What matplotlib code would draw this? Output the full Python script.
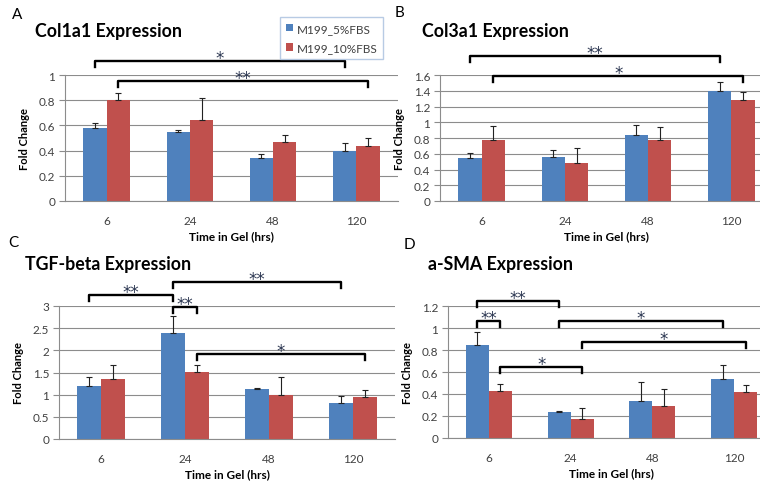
"""
Gene expression fold change vs time in gel, four panels (A-D).
Grouped bars with upward error bars and significance brackets.
"""

import numpy as np
import matplotlib
matplotlib.use("Agg")
import matplotlib.pyplot as plt

plt.rcParams["font.family"] = ["Lato", "DejaVu Sans"]

# Data
times = ["6", "24", "48", "120"]
series_names = ["M199_5%FBS", "M199_10%FBS"]

col1a1_5 = [0.58, 0.55, 0.34, 0.40]
col1a1_10 = [0.80, 0.64, 0.47, 0.44]
col1a1_5_err = [0.04, 0.01, 0.03, 0.06]
col1a1_10_err = [0.06, 0.18, 0.05, 0.06]

col3a1_5 = [0.54, 0.56, 0.84, 1.40]
col3a1_10 = [0.77, 0.48, 0.77, 1.28]
col3a1_5_err = [0.07, 0.09, 0.12, 0.11]
col3a1_10_err = [0.18, 0.19, 0.17, 0.11]

tgfb_5 = [1.20, 2.40, 1.13, 0.82]
tgfb_10 = [1.35, 1.52, 1.00, 0.95]
tgfb_5_err = [0.19, 0.37, 0.01, 0.14]
tgfb_10_err = [0.31, 0.14, 0.40, 0.16]

asma_5 = [0.85, 0.235, 0.34, 0.54]
asma_10 = [0.43, 0.175, 0.295, 0.42]
asma_5_err = [0.11, 0.01, 0.17, 0.12]
asma_10_err = [0.06, 0.10, 0.15, 0.06]

# significance brackets: (group, series) -> (group, series), height, label
col1a1_sig = [((0, 0), (3, 0), 1.11, "*"), ((0, 1), (3, 1), 0.95, "**")]
col3a1_sig = [((0, 0), (3, 0), 1.84, "**"), ((0, 1), (3, 1), 1.59, "*")]
tgfb_sig = [((0, 0), (1, 0), 3.25, "**"), ((1, 0), (3, 0), 3.54, "**"),
            ((1, 0), (1, 1), 2.98, "**"), ((1, 1), (3, 1), 1.92, "*")]
asma_sig = [((0, 0), (1, 0), 1.245, "**"), ((0, 0), (0, 1), 1.064, "**"),
            ((1, 0), (3, 0), 1.064, "*"), ((1, 1), (3, 1), 0.873, "*"),
            ((0, 1), (1, 1), 0.645, "*")]

BLUE = "#4F81BD"
RED = "#C0504D"
GRID = "#8C8C8C"
TICKC = "#404040"
W, H = 760, 485
BW = 0.28


def px_axes(left, right, top, bottom):
    return fig.add_axes([left / W, 1 - bottom / H, (right - left) / W, (bottom - top) / H])


def panel(ax, s5, s10, e5, e10, ymax, ystep, sigs, hpx):
    x = np.arange(len(times))
    ax.bar(x - BW / 2, s5, BW, color=BLUE, zorder=2, label=series_names[0])
    ax.bar(x + BW / 2, s10, BW, color=RED, zorder=2, label=series_names[1])
    for xs, v, e in ((x - BW / 2, s5, e5), (x + BW / 2, s10, e10)):
        ax.errorbar(xs, v, yerr=[np.zeros(len(e)), e], fmt="none", ecolor="#222222",
                    elinewidth=0.8, capsize=2.2, capthick=0.8, zorder=3)
    ax.set_xlim(-0.5, len(times) - 0.5)
    ax.set_ylim(0, ymax)
    ax.set_yticks(np.arange(0, ymax + ystep / 2, ystep))
    ax.yaxis.set_major_formatter(plt.FormatStrFormatter("%g"))
    ax.set_xticks(x)
    ax.set_xticklabels(times)
    ax.grid(axis="y", color=GRID, lw=0.8, zorder=0)
    for s in ("top", "right"):
        ax.spines[s].set_visible(False)
    for s in ("left", "bottom"):
        ax.spines[s].set_color(GRID)
        ax.spines[s].set_linewidth(0.8)
    ax.tick_params(axis="y", length=4, color=GRID, labelsize=8.5, labelcolor=TICKC, pad=3)
    ax.tick_params(axis="x", length=0, labelsize=8.5, labelcolor=TICKC, pad=10)
    ax.set_xlabel("Time in Gel (hrs)", fontsize=8.5, fontweight="bold", labelpad=3)
    ax.set_ylabel("Fold Change", fontsize=8, fontweight="bold", labelpad=6)
    drop = ymax * 6.0 / hpx
    for (g0, s0), (g1, s1), y, lab in sigs:
        x0 = g0 + (s0 - 0.5) * BW
        x1 = g1 + (s1 - 0.5) * BW
        ax.plot([x0, x0, x1, x1], [y - drop, y, y, y - drop], color="black", lw=1.7,
                clip_on=False, zorder=5, solid_joinstyle="round")
        ax.annotate(lab, xy=((x0 + x1) / 2, y), xytext=(0, -1.5), textcoords="offset points",
                    ha="center", va="baseline", fontsize=12, color="#2A3550",
                    family="DejaVu Sans", annotation_clip=False)


fig = plt.figure(figsize=(7.6, 4.85), dpi=100)

axA = px_axes(65, 398, 76, 202)
axB = px_axes(440, 773, 76, 202)
axC = px_axes(59, 395, 307, 440)
axD = px_axes(448, 775, 307, 439)

panel(axA, col1a1_5, col1a1_10, col1a1_5_err, col1a1_10_err, 1.0, 0.2, col1a1_sig, 126)
panel(axB, col3a1_5, col3a1_10, col3a1_5_err, col3a1_10_err, 1.6, 0.2, col3a1_sig, 126)
panel(axC, tgfb_5, tgfb_10, tgfb_5_err, tgfb_10_err, 3.0, 0.5, tgfb_sig, 133)
panel(axD, asma_5, asma_10, asma_5_err, asma_10_err, 1.2, 0.2, asma_sig, 132)

# titles and panel letters
for txt, x, y in [("Col1a1 Expression", 35, 32), ("Col3a1 Expression", 422, 32),
                  ("TGF-beta Expression", 25, 265), ("a-SMA Expression", 428, 265)]:
    fig.text(x / W, 1 - y / H, txt, fontsize=12.8, fontweight="bold", va="center", ha="left")
for txt, x, y in [("A", 12, 15), ("B", 395, 13), ("C", 8, 243), ("D", 404, 245)]:
    fig.text(x / W, 1 - y / H, txt, fontsize=11, va="center", ha="left")

handles, labels = axA.get_legend_handles_labels()
leg = fig.legend(handles, labels, loc="upper left", bbox_to_anchor=(280 / W, 1 - 18 / H),
                 borderaxespad=0, fontsize=8.5, handlelength=0.6, handleheight=0.6,
                 handletextpad=0.3, labelspacing=0.7, borderpad=0.5, fancybox=False,
                 labelcolor=TICKC)
leg.get_frame().set_edgecolor("#A7BFDE")
leg.get_frame().set_linewidth(1.0)

fig.savefig("out.png", dpi=100)
